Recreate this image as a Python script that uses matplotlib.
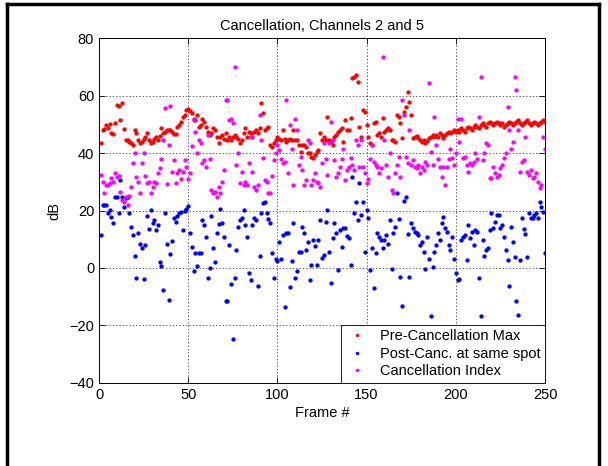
import numpy as np
import matplotlib
matplotlib.use("Agg")
import matplotlib.pyplot as plt
from matplotlib.lines import Line2D

plt.rcParams['font.family'] = ['Liberation Sans', 'DejaVu Sans']

# frame numbers 1..250
frames = np.arange(1, 251)

# Pre-Cancellation Max (dB)
pre_max = [
    43.5, 48.0, 48.3, 49.8, 48.6, 50.0, 47.0, 46.5, 50.4, 56.7,
    56.4, 51.5, 57.3, 48.4, 44.6, 44.6, 44.0, 43.4, 42.8, 48.0,
    47.0, 44.6, 43.4, 44.0, 45.0, 45.7, 47.0, 44.6, 43.4, 44.0,
    45.0, 45.7, 44.6, 46.0, 48.6, 47.0, 47.5, 48.0, 48.0, 48.0,
    47.5, 46.5, 46.5, 49.2, 49.8, 51.0, 52.7, 53.3, 55.0, 55.2,
    54.8, 53.8, 52.0, 51.5, 53.3, 49.2, 49.8, 52.0, 51.0, 49.2,
    47.5, 46.3, 47.0, 48.6, 48.0, 45.7, 43.4, 45.7, 46.3, 45.0,
    47.0, 44.6, 45.7, 44.6, 45.7, 46.3, 45.7, 45.0, 43.4, 44.6,
    47.0, 48.6, 45.7, 47.5, 47.0, 45.7, 47.5, 48.0, 47.0, 48.6,
    57.3, 53.8, 48.0, 48.6, 49.0, 42.8, 42.2, 43.4, 44.6, 45.7,
    45.0, 44.6, 48.0, 45.0, 44.0, 44.6, 45.0, 44.6, 48.0, 44.6,
    44.6, 42.8, 40.5, 42.8, 42.8, 42.2, 39.9, 39.9, 38.7, 38.2,
    39.3, 40.5, 41.0, 46.9, 44.6, 45.7, 44.6, 52.7, 44.6, 44.0,
    42.8, 45.7, 46.3, 47.5, 48.0, 48.6, 44.0, 51.5, 48.0, 48.0,
    52.1, 66.0, 66.6, 67.2, 64.9, 49.2, 45.7, 55.0, 54.4, 49.8,
    45.7, 43.4, 42.8, 50.4, 51.0, 46.3, 46.9, 45.7, 52.1, 47.5,
    48.0, 48.6, 48.0, 44.6, 44.6, 44.0, 53.3, 52.7, 50.4, 45.1,
    54.4, 56.2, 61.4, 57.9, 53.3, 45.1, 45.7, 46.0, 45.1, 44.6,
    44.0, 44.6, 43.5, 44.2, 45.1, 45.7, 46.3, 45.5, 46.3, 45.7,
    46.9, 46.3, 45.1, 46.3, 46.9, 47.5, 47.0, 47.5, 48.0, 47.5,
    48.0, 47.5, 48.6, 48.0, 47.5, 48.6, 49.0, 48.6, 48.0, 49.2,
    49.8, 49.2, 48.6, 49.8, 50.4, 49.8, 49.2, 50.4, 51.0, 50.4,
    49.8, 50.4, 51.0, 50.4, 49.8, 50.4, 49.2, 49.8, 50.4, 51.0,
    50.4, 49.8, 50.4, 51.0, 51.5, 50.4, 49.8, 50.4, 51.0, 51.5,
    50.4, 49.8, 50.4, 51.0, 50.4, 49.8, 50.4, 51.0, 51.5, 51.0,
]

# Post-Canc. at same spot (dB)
post_canc = [
    11.5, 21.9, 22.0, 21.9, 19.0, 20.2, 17.8, 15.7, 24.8, 24.8,
    19.2, 30.8, 24.8, 21.3, 24.2, 24.8, 19.0, 14.4, 11.5, 4.1,
    -3.6, 12.0, 8.5, 6.8, -4.0, 8.0, 18.0, 13.4, 20.2, 15.7,
    16.7, 13.2, 15.0, 2.2, 0.5, -7.7, 19.0, 8.5, -11.2, 4.8,
    9.5, 17.3, 16.1, 18.0, 19.0, 19.5, 13.2, 20.0, 20.5, 21.6,
    12.3, 7.4, -1.0, 5.3, 0.6, 5.3, 5.3, 16.7, 15.0, 10.6,
    -3.4, 0.0, 18.0, 7.0, 2.0, 12.0, 15.3, 20.4, 15.7, 10.9,
    -11.4, -11.4, 8.0, -5.7, -24.6, -3.6, 6.2, 14.4, 16.7, 17.3,
    20.2, 15.0, 10.6, -1.9, -4.2, 15.0, 17.3, 16.7, -6.3, 4.1,
    19.0, 22.5, 23.0, 19.2, 17.0, 15.7, 5.1, -3.6, 3.0, 2.5,
    9.1, 3.0, 11.5, -13.5, 12.3, 12.0, -6.5, 2.5, 15.7, -3.6,
    -1.0, 5.6, 5.6, 14.4, 12.3, 6.2, 9.0, -4.2, 1.0, 9.7,
    7.6, 1.0, 9.7, 16.7, 3.3, 4.5, 16.1, 20.2, 5.6, -5.4,
    10.3, 15.5, 12.0, -0.7, 13.2, 7.4, 13.8, 14.0, 11.0, 10.3,
    1.0, 31.8, 19.0, 23.0, 16.7, 29.5, 18.4, 23.0, 5.6, 20.2,
    17.3, -0.7, 6.8, -7.1, 5.3, 12.0, 10.9, 9.7, 6.8, 9.7,
    11.5, 8.3, 16.7, -0.5, 12.0, 14.4, 26.0, 16.9, -3.0, -13.3,
    23.4, 24.8, 11.8, -3.0, 15.5, 14.0, 12.6, 12.0, 11.5, 8.0,
    9.1, 5.6, -0.5, 10.9, 3.0, -16.8, 0.4, 5.6, 8.0, 12.0,
    9.7, 15.5, 17.8, 14.0, 12.6, 8.0, 6.2, 10.9, 3.0, -1.9,
    -4.2, -4.0, 9.7, 10.9, 11.5, 2.7, 15.0, 10.3, 12.6, 8.0,
    13.2, 12.6, -3.6, -16.8, 9.7, 4.0, 6.2, 6.8, 13.2, 19.0,
    13.8, 16.1, 18.4, 18.4, 14.0, 15.0, 10.9, 6.2, 2.7, -6.3,
    14.4, 9.1, 3.9, -11.4, -16.4, 2.9, 17.3, 13.4, 11.8, 3.9,
    19.2, 17.3, 17.3, 18.4, 19.0, 17.3, 23.0, 21.3, 19.6, 5.3,
]

# Cancellation Index (dB)
canc_index = [
    32.4, 30.0, 26.0, 29.0, 29.0, 29.5, 31.2, 30.0, 33.0, 31.8,
    32.0, 26.5, 23.6, 23.0, 24.8, 21.9, 25.2, 28.3, 36.4, 40.0,
    31.8, 30.0, 26.0, 36.4, 40.0, 32.0, 29.5, 30.0, 26.0, 28.3,
    30.0, 29.5, 33.0, 34.7, 38.0, 44.6, 55.6, 29.2, 42.8, 56.4,
    33.5, 37.6, 29.5, 33.0, 34.0, 31.0, 33.5, 37.6, 35.3, 31.0,
    33.0, 42.5, 51.5, 47.5, 40.0, 44.6, 43.4, 36.4, 37.6, 35.0,
    46.3, 38.0, 27.0, 26.0, 26.5, 24.8, 28.3, 26.0, 30.0, 34.0,
    58.5, 58.5, 51.5, 52.0, 50.4, 70.0, 36.0, 40.0, 29.5, 33.5,
    29.0, 30.0, 29.0, 36.4, 45.7, 33.5, 28.3, 27.1, 29.0, 53.3,
    44.6, 38.2, 30.6, 30.0, 26.0, 26.0, 32.0, 37.6, 40.0, 42.8,
    41.0, 38.0, 36.4, 37.0, 58.5, 33.2, 49.8, 41.6, 29.0, 52.0,
    48.0, 35.8, 38.7, 34.0, 29.0, 30.6, 44.6, 43.4, 29.0, 30.6,
    33.0, 30.0, 29.5, 28.3, 36.4, 43.4, 38.0, 32.4, 43.4, 51.0,
    44.6, 37.6, 31.8, 33.0, 35.3, 38.0, 41.6, 30.6, 34.0, 35.3,
    38.2, 36.0, 34.0, 44.6, 42.8, 35.3, 44.6, 35.3, 33.0, 29.5,
    31.0, 38.0, 42.8, 37.0, 36.0, 35.3, 33.0, 34.7, 73.6, 44.6,
    36.0, 31.8, 40.0, 27.0, 26.0, 33.0, 36.0, 38.7, 31.8, 58.5,
    53.3, 38.7, 36.4, 48.0, 35.8, 37.6, 35.3, 34.7, 36.0, 33.0,
    35.3, 34.0, 37.0, 36.0, 64.3, 40.5, 36.0, 52.7, 42.8, 38.0,
    35.3, 31.8, 35.3, 29.0, 35.3, 38.0, 41.6, 38.2, 36.0, 40.0,
    52.0, 44.0, 51.8, 38.2, 38.7, 36.0, 33.5, 36.4, 35.8, 37.0,
    40.0, 38.0, 52.7, 66.6, 37.6, 40.0, 43.4, 42.8, 31.2, 31.2,
    35.0, 33.0, 31.8, 32.4, 34.7, 36.0, 38.2, 40.0, 56.2, 48.0,
    41.6, 44.0, 66.6, 62.0, 48.0, 33.5, 37.0, 37.6, 45.7, 33.5,
    32.4, 34.0, 31.2, 31.8, 33.0, 30.0, 27.7, 29.0, 45.7, 41.6,
]

labels = ["Pre-Cancellation Max", "Post-Canc. at same spot", "Cancellation Index"]
colors = ["#ff0000", "#0000ff", "#ff00ff"]

fig = plt.figure(figsize=(6.08, 4.66), dpi=100)
ax = fig.add_axes([99 / 608, 1 - 382.7 / 466, 446 / 608, 344.4 / 466])

for vals, col, lab in zip([pre_max, post_canc, canc_index], colors, labels):
    ax.plot(frames, vals, linestyle="none", marker=".", markersize=4.2,
            color=col, label=lab)

ax.set_xlim(0, 250)
ax.set_ylim(-40, 80)
ax.set_xticks(np.arange(0, 251, 50))
ax.set_yticks(np.arange(-40, 81, 20))
ax.grid(True, linestyle=(0, (1.5, 2.5)), color="black", linewidth=0.6, alpha=0.8)
ax.tick_params(direction="in", length=4, labelsize=10.5, width=0.6)
ax.tick_params(top=True, right=True, labeltop=False, labelright=False)
for sp in ax.spines.values():
    sp.set_linewidth(0.7)

ax.set_title("Cancellation, Channels 2 and 5", fontsize=10.5, pad=6)
ax.set_xlabel("Frame #", fontsize=10.5, labelpad=3)
ax.set_ylabel("dB", fontsize=10.5, labelpad=6)

leg = ax.legend(loc="lower right", fontsize=10.5, markerscale=0.7,
                handlelength=1.6, handletextpad=0.8, borderpad=0.3,
                labelspacing=0.25, fancybox=False, framealpha=1,
                edgecolor="black", borderaxespad=0.0)
leg.get_frame().set_linewidth(0.6)

# black frame around the figure (left, top, right)
fig.add_artist(Line2D([7 / 608, 7 / 608], [0, 1 - 4 / 466], color="black", linewidth=2.5))
fig.add_artist(Line2D([7 / 608, 599 / 608], [1 - 4 / 466, 1 - 4 / 466], color="black", linewidth=2.5))
fig.add_artist(Line2D([599 / 608, 599 / 608], [0, 1 - 4 / 466], color="black", linewidth=2.5))

fig.savefig("out.png", dpi=100)
